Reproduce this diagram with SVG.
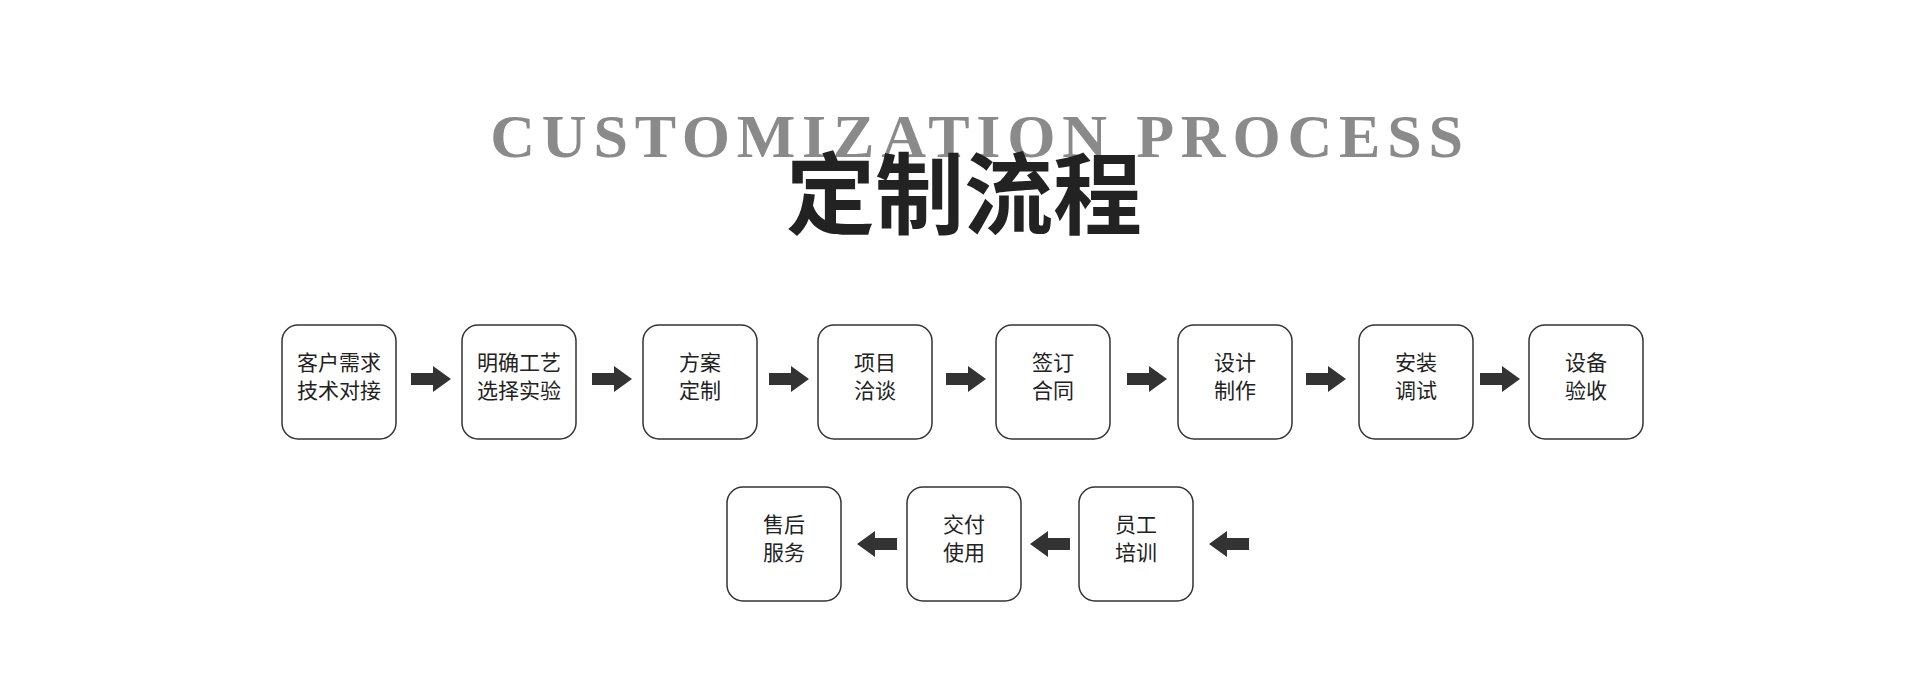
<svg xmlns="http://www.w3.org/2000/svg" width="1920" height="674" viewBox="0 0 1920 674">
<style>
.b{fill:#fff;stroke:#333;stroke-width:1.5}
.t{font-family:"Noto Sans CJK SC",sans-serif;font-size:21px;fill:#222;text-anchor:middle}
.a{fill:#333}
</style>
<defs>
<path id="ar" d="M0,-6 H22 V-13 L40,0 L22,13 V6 H0 Z"/>
</defs>
<rect width="1920" height="674" fill="#fff"/>
<text x="980" y="157" font-family="Liberation Serif,serif" font-weight="bold" font-size="62" fill="#8a8a8a" text-anchor="middle" letter-spacing="6.8">CUSTOMIZATION PROCESS</text>
<text x="964" y="227" font-family="Noto Sans CJK SC,sans-serif" font-weight="bold" font-size="89" fill="#222" text-anchor="middle">定制流程</text>
<g id="n1"><rect class="b" x="282" y="325" width="114" height="114" rx="16"/><text class="t" x="339" y="370">客户需求</text><text class="t" x="339" y="398">技术对接</text></g>
<g id="n2"><rect class="b" x="462" y="325" width="114" height="114" rx="16"/><text class="t" x="519" y="370">明确工艺</text><text class="t" x="519" y="398">选择实验</text></g>
<g id="n3"><rect class="b" x="643" y="325" width="114" height="114" rx="16"/><text class="t" x="700" y="370">方案</text><text class="t" x="700" y="398">定制</text></g>
<g id="n4"><rect class="b" x="818" y="325" width="114" height="114" rx="16"/><text class="t" x="875" y="370">项目</text><text class="t" x="875" y="398">洽谈</text></g>
<g id="n5"><rect class="b" x="996" y="325" width="114" height="114" rx="16"/><text class="t" x="1053" y="370">签订</text><text class="t" x="1053" y="398">合同</text></g>
<g id="n6"><rect class="b" x="1178" y="325" width="114" height="114" rx="16"/><text class="t" x="1235" y="370">设计</text><text class="t" x="1235" y="398">制作</text></g>
<g id="n7"><rect class="b" x="1359" y="325" width="114" height="114" rx="16"/><text class="t" x="1416" y="370">安装</text><text class="t" x="1416" y="398">调试</text></g>
<g id="n8"><rect class="b" x="1529" y="325" width="114" height="114" rx="16"/><text class="t" x="1586" y="370">设备</text><text class="t" x="1586" y="398">验收</text></g>
<g id="n9"><rect class="b" x="1079" y="487" width="114" height="114" rx="16"/><text class="t" x="1136" y="532">员工</text><text class="t" x="1136" y="560">培训</text></g>
<g id="n10"><rect class="b" x="907" y="487" width="114" height="114" rx="16"/><text class="t" x="964" y="532">交付</text><text class="t" x="964" y="560">使用</text></g>
<g id="n11"><rect class="b" x="727" y="487" width="114" height="114" rx="16"/><text class="t" x="784" y="532">售后</text><text class="t" x="784" y="560">服务</text></g>
<g id="connectors" class="a">
<use href="#ar" x="411" y="379"/>
<use href="#ar" x="592" y="379"/>
<use href="#ar" x="769" y="379"/>
<use href="#ar" x="946" y="379"/>
<use href="#ar" x="1127" y="379"/>
<use href="#ar" x="1306" y="379"/>
<use href="#ar" x="1480" y="379"/>
<use href="#ar" transform="translate(1249,544) scale(-1,1)"/>
<use href="#ar" transform="translate(1070,544) scale(-1,1)"/>
<use href="#ar" transform="translate(897,544) scale(-1,1)"/>
</g>
</svg>
